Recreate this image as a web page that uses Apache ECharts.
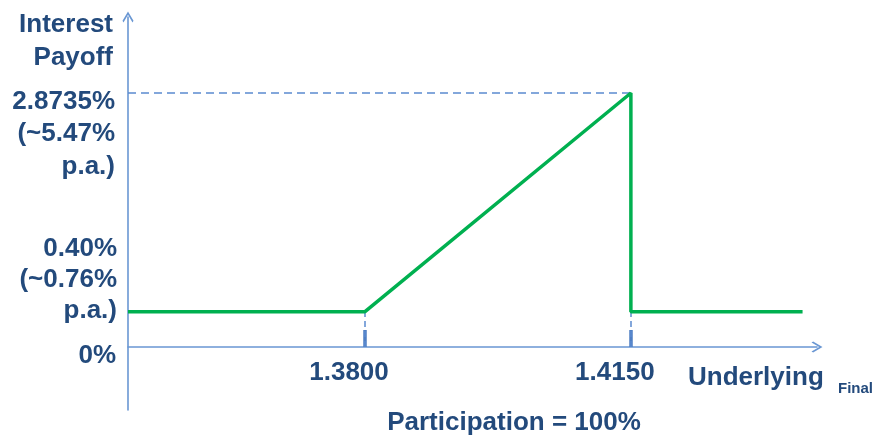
<!DOCTYPE html>
<html>
<head>
<meta charset="utf-8">
<script src="https://cdn.jsdelivr.net/npm/echarts@6/dist/echarts.min.js"></script>
<style>
html,body{margin:0;padding:0;background:#fff;}
#chart{width:877px;height:435px;}
</style>
</head>
<body>
<div id="chart"></div>
<script>
// ---- data ----
const underlying = [1.3488, 1.3800, 1.4150, 1.4150, 1.4376];   // Underlying Final
const payoff     = [0.40,   0.40,   2.8735, 0.40,   0.40];     // Interest payoff (%)
const strikes    = [1.3800, 1.4150];
const strikeLabels = ['1.3800', '1.4150'];
const lowLevel   = 0.40;
const capLevel   = 2.8735;
const yTitle     = 'Interest\nPayoff';
const capLabel   = '2.8735%\n(~5.47%\np.a.)';
const lowLabel   = '0.40%\n(~0.76%\np.a.)';
const zeroLabel  = '0%';
const xTitle     = 'Underlying';
const xTitleSub  = 'Final';
const footNote   = 'Participation = 100%';

const FONT = '"Liberation Sans", Arial, sans-serif';
const TXT = '#234a7c';
const AXIS = '#6a97d3';
const DASH = '#5b8bd0';
const GREEN = '#00b050';
const chevron = 'path://M50,0 L100,85 L91,100 L50,30 L9,100 L0,85 Z';

const xMin = 1.3488, xMax = 1.4395;
const yMin = -0.7127, yMax = 3.7334;

const lineData = underlying.map((x, i) => [x, payoff[i]]);

const chart = echarts.init(document.getElementById('chart'), null, {renderer: 'canvas'});
const textStyle = (o) => Object.assign({
  fill: TXT, fontFamily: FONT, fontWeight: 'bold', fontSize: 26
}, o);

const graphics = [
  {type: 'text', x: 113, y: 41, style: textStyle({text: yTitle, align: 'right', verticalAlign: 'middle', lineHeight: 33})},
  {type: 'text', x: 115, y: 134, style: textStyle({text: capLabel, align: 'right', verticalAlign: 'middle', lineHeight: 32.5})},
  {type: 'text', x: 117, y: 280, style: textStyle({text: lowLabel, align: 'right', verticalAlign: 'middle', lineHeight: 31})},
  {type: 'text', x: 116, y: 356, style: textStyle({text: zeroLabel, align: 'right', verticalAlign: 'middle'})},
  {type: 'text', x: 688, y: 378, style: textStyle({text: xTitle, align: 'left', verticalAlign: 'middle'})},
  {type: 'text', x: 838, y: 389, style: textStyle({text: xTitleSub, align: 'left', verticalAlign: 'middle', fontSize: 15})},
  {type: 'text', x: 514, y: 423, style: textStyle({text: footNote, align: 'center', verticalAlign: 'middle'})}
];

chart.setOption({
  animation: false,
  backgroundColor: '#ffffff',
  grid: {left: 128, right: 60, top: 17, bottom: 25, containLabel: false, outerBoundsMode: 'none'},
  xAxis: {
    type: 'value', min: xMin, max: xMax,
    splitLine: {show: false},
    axisLine: {show: true, onZero: true, lineStyle: {color: AXIS, width: 1.6},
      symbol: ['none', chevron], symbolSize: [14, 11]},
    axisTick: {show: true, inside: true, length: 17, customValues: strikes,
      lineStyle: {color: '#4f7fc4', width: 3.5}},
    axisLabel: {show: false}
  },
  yAxis: {
    type: 'value', min: yMin, max: yMax,
    splitLine: {show: false},
    axisLine: {show: true, onZero: false, lineStyle: {color: AXIS, width: 1.6},
      symbol: ['none', chevron], symbolSize: [14, 11]},
    axisTick: {show: false},
    axisLabel: {show: false}
  },
  series: [{
    type: 'line',
    data: lineData,
    symbol: 'none',
    lineStyle: {color: GREEN, width: 3.5},
    z: 5,
    markLine: {
      silent: true,
      symbol: ['none', 'none'],
      label: {show: false},
      lineStyle: {color: DASH, width: 1.5, type: [6, 4]},
      data: [
        [{coord: [xMin, capLevel], lineStyle: {type: [8, 5]}}, {coord: [strikes[1], capLevel]}],
        [{coord: [strikes[0], 0]}, {coord: [strikes[0], lowLevel]}],
        [{coord: [strikes[1], 0]}, {coord: [strikes[1], lowLevel]}]
      ]
    }
  }],
  graphic: graphics
});

// strike labels, positioned from the x scale (centred slightly left of the strike)
const zeroY = chart.convertToPixel({yAxisIndex: 0}, 0);
strikes.forEach((s, i) => {
  const px = chart.convertToPixel({xAxisIndex: 0}, s);
  graphics.push({type: 'text', x: px - 16, y: zeroY + 26,
    style: textStyle({text: strikeLabels[i], align: 'center', verticalAlign: 'middle'})});
});
chart.setOption({graphic: graphics});
</script>
</body>
</html>
